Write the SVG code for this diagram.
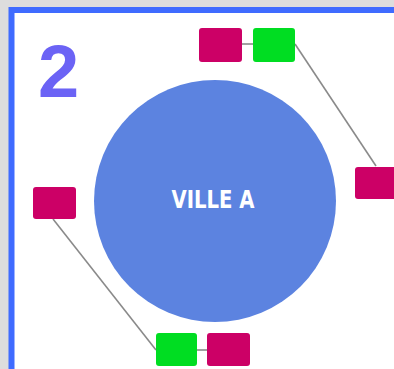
<svg xmlns="http://www.w3.org/2000/svg" width="394" height="369" viewBox="0 0 394 369">
<style>
.m{fill:#cc0066}
.g{fill:#00dd22}
.c line{stroke:#8a8a8a;stroke-width:1.6}
</style>
<rect x="0" y="0" width="394" height="369" fill="#dddddd"/>
<rect x="11.5" y="10" width="400" height="380" fill="#ffffff" stroke="#3f6bff" stroke-width="6"/>
<text x="38" y="97" font-family="Liberation Sans, Arial, sans-serif" font-weight="bold" font-size="74" fill="#6b63f5">2</text>
<g class="c">
<line x1="242" y1="44" x2="253" y2="44"/>
<line x1="295" y1="44" x2="376" y2="166"/>
<line x1="53" y1="219" x2="156" y2="350"/>
<line x1="197" y1="350" x2="207" y2="350"/>
</g>
<g id="ville-a">
<circle cx="215" cy="201" r="121" fill="#5c83e0"/>
<text x="213" y="208" text-anchor="middle" font-family="DejaVu Sans Condensed, Liberation Sans, sans-serif" font-weight="bold" font-size="25" fill="#ffffff" textLength="83" lengthAdjust="spacingAndGlyphs">VILLE A</text>
</g>
<g id="top-magenta"><rect class="m" x="199" y="28" width="43" height="34" rx="3"/></g>
<g id="top-green"><rect class="g" x="253" y="28" width="42" height="34" rx="3"/></g>
<g id="right-magenta"><rect class="m" x="355" y="167" width="45" height="32" rx="3"/></g>
<g id="left-magenta"><rect class="m" x="33" y="187" width="43" height="32" rx="3"/></g>
<g id="bottom-green"><rect class="g" x="156" y="333" width="41" height="33" rx="3"/></g>
<g id="bottom-magenta"><rect class="m" x="207" y="333" width="43" height="33" rx="3"/></g>
</svg>
